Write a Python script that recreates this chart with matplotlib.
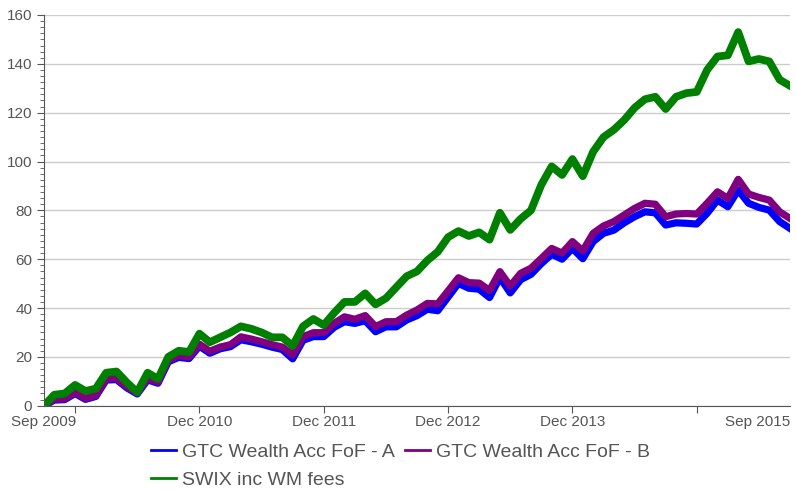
import numpy as np
import matplotlib
matplotlib.use('Agg')
import matplotlib.pyplot as plt
from matplotlib.ticker import MultipleLocator

# monthly index, Sep 2009 .. Sep 2015
months = np.arange(73)

fof_a = [0, 2.3, 2.5, 5, 2.6, 3.8, 10.5, 10.7, 7.3, 4.8,
         10.6, 9.2, 18, 19.8, 19.3, 24.4, 21.5, 23.3, 24.2, 27,
         26.2, 25.2, 24, 23, 19.2, 26.8, 28.3, 28.3, 32.1, 34.4,
         33.7, 34.8, 30.3, 32.3, 32.3, 35.1, 36.9, 39.5, 38.9, 44.5,
         50.1, 48.1, 47.7, 44.3, 52.5, 46.2, 51.6, 53.8, 58.2, 62,
         60, 64.4, 60.2, 67.2, 70.6, 71.9, 74.9, 77.4, 79.4, 79,
         74, 74.9, 74.7, 74.4, 78.8, 84.2, 81.5, 88.3, 82.9, 81.2,
         80.1, 75.4, 72.6]

fof_b = [0, 2.7, 2.9, 5.5, 3, 4.2, 11, 11.2, 7.8, 5.2,
         11.2, 9.7, 18.7, 20.5, 20, 25.2, 22.3, 24, 25, 28.2,
         27.3, 26.2, 25, 24, 20.8, 28.3, 29.9, 29.9, 33.7, 36.4,
         35.4, 36.9, 32.4, 34.4, 34.4, 37.1, 39.2, 41.9, 41.7, 47,
         52.4, 50.4, 50.2, 47.2, 54.9, 49, 54.2, 56.3, 60.3, 64.4,
         62.5, 67.2, 63.4, 70.6, 73.6, 75.4, 78.1, 80.8, 82.9, 82.5,
         77.4, 78.5, 78.7, 78.5, 82.9, 87.6, 84.9, 92.7, 86.7, 85.3,
         84.2, 79.4, 76.7]

swix = [0, 4.5, 5, 8.5, 6, 7, 13.5, 14, 9.5, 5.5,
        13.5, 11, 20, 22.5, 22, 29.5, 26, 28, 30, 32.5,
        31.5, 30, 28, 28, 24.5, 32.5, 35.5, 33, 38, 42.5,
        42.5, 46, 41.5, 44, 48.5, 53, 55, 59.5, 63, 69,
        71.5, 69.5, 71, 68, 79, 72, 76.5, 80, 90.5, 98,
        94.5, 101, 94, 104, 110, 113, 117, 122, 125.5, 126.5,
        121.5, 126.5, 128, 128.5, 137.5, 143, 143.5, 153, 141, 142,
        141, 133.5, 131]

tick_pos = [3, 15, 27, 39, 51, 63]
tick_labels = ['', 'Dec 2010', 'Dec 2011', 'Dec 2012', 'Dec 2013', '']
end_labels = ['Sep 2009', 'Sep 2015']

plt.rcParams['font.family'] = ['Liberation Sans', 'DejaVu Sans']

fig = plt.figure(figsize=(7.96, 4.90), dpi=100)
ax = fig.add_axes([44 / 796, 1 - 405.7 / 490, 746 / 796, 390.7 / 490])

l1, = ax.plot(months, fof_a, color='#0000ff', lw=5.2, solid_joinstyle='round', label='GTC Wealth Acc FoF - A')
l2, = ax.plot(months, fof_b, color='#800080', lw=5.2, solid_joinstyle='round', label='GTC Wealth Acc FoF - B')
l3, = ax.plot(months, swix, color='#008000', lw=5.6, solid_joinstyle='round', label='SWIX inc WM fees')

ax.set_xlim(0, 72)
ax.set_ylim(0, 160)
ax.yaxis.set_major_locator(MultipleLocator(20))
ax.yaxis.set_minor_locator(MultipleLocator(2.5))
ax.grid(axis='y', color='#cccccc', lw=1)
ax.set_axisbelow(True)

ax.set_xticks(tick_pos)
ax.set_xticklabels(tick_labels)
ax.set_xticks([0, 72], minor=True)
ax.set_xticklabels(end_labels, minor=True)
ax.get_xticklabels(minor=True)[1].set_ha('right')
ax.tick_params(axis='x', which='minor', length=0, pad=7)

for s in ['top', 'right']:
    ax.spines[s].set_visible(False)
for s in ['left', 'bottom']:
    ax.spines[s].set_color('#555555')
ax.tick_params(axis='both', which='major', colors='#555555', labelcolor='#555555',
               labelsize=11, length=5)
ax.tick_params(axis='x', which='major', pad=2)
ax.tick_params(axis='y', which='minor', colors='#555555', length=3)
ax.tick_params(axis='x', which='minor', labelcolor='#555555', labelsize=11)

leg = fig.legend([l1, l3, l2], [l1.get_label(), l3.get_label(), l2.get_label()],
                 ncol=2, loc='upper left', bbox_to_anchor=(151 / 796, 1 - 443 / 490),
                 frameon=False, borderpad=0, borderaxespad=0,
                 handlelength=1.3, handletextpad=0.3, columnspacing=0.5,
                 labelspacing=0.55, fontsize=14)
for t in leg.get_texts():
    t.set_color('#555555')
for h in leg.legend_handles:
    h.set_linewidth(2)

fig.savefig('out.png', dpi=100)
